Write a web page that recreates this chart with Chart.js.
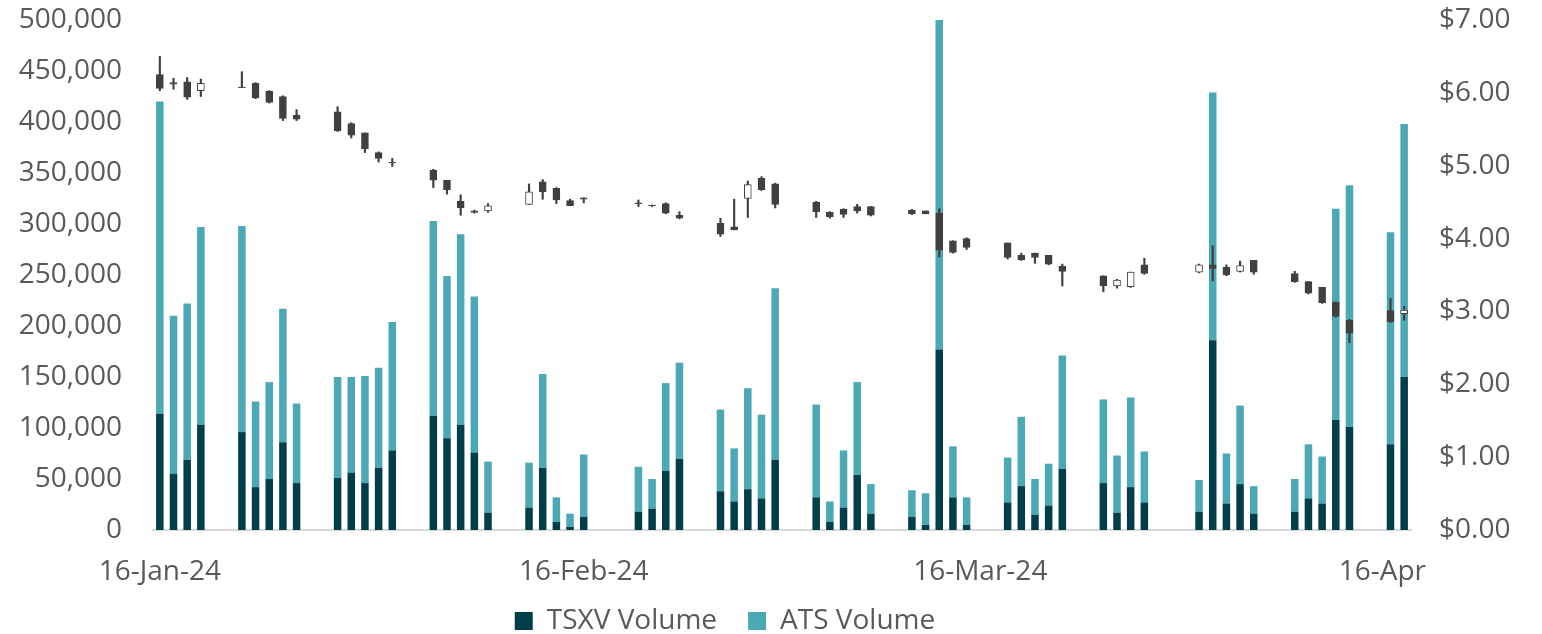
<!DOCTYPE html>
<html><head><meta charset="utf-8">
<script src="https://cdn.jsdelivr.net/npm/chart.js@4.4.1/dist/chart.umd.min.js"></script>
<style>html,body{margin:0;padding:0;background:#fff;}#wrap{width:1542px;height:634px;}</style>
</head><body><div id="wrap"><canvas id="c" width="1542" height="634"></canvas></div>
<script>
// ---- data ----
const tradingDates = [
 '2024-01-16','2024-01-17','2024-01-18','2024-01-19',
 '2024-01-22','2024-01-23','2024-01-24','2024-01-25','2024-01-26',
 '2024-01-29','2024-01-30','2024-01-31','2024-02-01','2024-02-02',
 '2024-02-05','2024-02-06','2024-02-07','2024-02-08','2024-02-09',
 '2024-02-12','2024-02-13','2024-02-14','2024-02-15','2024-02-16',
 '2024-02-20','2024-02-21','2024-02-22','2024-02-23',
 '2024-02-26','2024-02-27','2024-02-28','2024-02-29','2024-03-01',
 '2024-03-04','2024-03-05','2024-03-06','2024-03-07','2024-03-08',
 '2024-03-11','2024-03-12','2024-03-13','2024-03-14','2024-03-15',
 '2024-03-18','2024-03-19','2024-03-20','2024-03-21','2024-03-22',
 '2024-03-25','2024-03-26','2024-03-27','2024-03-28',
 '2024-04-01','2024-04-02','2024-04-03','2024-04-04','2024-04-05',
 '2024-04-08','2024-04-09','2024-04-10','2024-04-11','2024-04-12',
 '2024-04-15','2024-04-16'];
const tsxvVolume = [
 114000,55000,69000,103000,
 96000,42000,50000,86000,46000,
 51000,56000,46000,61000,78000,
 112000,90000,103000,76000,17000,
 22000,61000,8000,3000,13000,
 18000,21000,58000,70000,
 38000,28000,40000,31000,69000,
 32000,8000,22000,54000,16000,
 13000,5000,177000,32000,5000,
 27000,43000,15000,24000,60000,
 46000,17000,42000,27000,
 18000,186000,26000,45000,16000,
 18000,31000,26000,108000,101000,
 84000,150000];
const atsVolume = [
 306000,155000,153000,194000,
 202000,84000,95000,131000,78000,
 99000,94000,105000,98000,126000,
 191000,159000,187000,153000,50000,
 44000,92000,24000,13000,61000,
 44000,29000,86000,94000,
 80000,52000,99000,82000,168000,
 91000,20000,56000,91000,29000,
 26000,31000,343000,50000,27000,
 44000,68000,35000,41000,111000,
 82000,56000,88000,50000,
 31000,243000,49000,77000,27000,
 32000,53000,46000,207000,237000,
 208000,248000];
const priceOpen = [
 6.25,6.14,6.15,6.03,
 6.08,6.13,6.02,5.95,5.69,
 5.74,5.58,5.45,5.18,5.05,
 4.94,4.80,4.51,4.38,4.38,
 4.47,4.78,4.69,4.52,4.56,
 4.49,4.46,4.48,4.32,
 4.21,4.16,4.55,4.83,4.75,
 4.50,4.36,4.40,4.44,4.44,
 4.39,4.38,4.35,3.97,4.00,
 3.94,3.77,3.80,3.77,3.62,
 3.49,3.35,3.34,3.64,
 3.54,3.64,3.61,3.55,3.70,
 3.52,3.41,3.33,3.13,2.88,
 3.01,2.97];
const priceHigh = [
 6.50,6.20,6.21,6.19,
 6.29,6.14,6.03,5.96,5.77,
 5.81,5.59,5.45,5.19,5.10,
 4.95,4.80,4.60,4.39,4.48,
 4.75,4.81,4.70,4.54,4.56,
 4.53,4.46,4.49,4.37,
 4.28,4.54,4.79,4.85,4.76,
 4.51,4.37,4.41,4.47,4.44,
 4.40,4.38,4.41,3.97,4.01,
 3.94,3.80,3.80,3.77,3.65,
 3.49,3.44,3.54,3.73,
 3.65,3.90,3.64,3.69,3.70,
 3.55,3.41,3.33,3.13,2.89,
 3.18,3.07];
const priceLow = [
 6.03,6.05,5.91,5.95,
 6.07,5.92,5.86,5.62,5.62,
 5.47,5.38,5.18,5.05,4.99,
 4.70,4.61,4.32,4.35,4.36,
 4.47,4.54,4.48,4.45,4.49,
 4.44,4.44,4.34,4.27,
 4.03,4.12,4.29,4.66,4.42,
 4.29,4.28,4.29,4.35,4.31,
 4.33,4.34,3.75,3.80,3.85,
 3.72,3.70,3.66,3.64,3.35,
 3.27,3.32,3.33,3.51,
 3.53,3.42,3.49,3.54,3.51,
 3.40,3.24,3.11,2.92,2.57,
 2.85,2.88];
const priceClose = [
 6.06,6.12,5.94,6.13,
 6.07,5.93,5.87,5.65,5.64,
 5.48,5.42,5.23,5.10,5.04,
 4.80,4.67,4.42,4.36,4.45,
 4.64,4.64,4.53,4.45,4.54,
 4.48,4.45,4.35,4.28,
 4.06,4.12,4.74,4.67,4.47,
 4.37,4.30,4.33,4.38,4.32,
 4.34,4.34,3.84,3.81,3.88,
 3.74,3.71,3.74,3.65,3.55,
 3.35,3.43,3.54,3.52,
 3.64,3.59,3.50,3.63,3.54,
 3.41,3.25,3.12,2.93,2.70,
 2.86,3.02];
const tickDates = ['2024-01-16','2024-02-16','2024-03-16','2024-04-16'];
const tickLabels = ['16-Jan-24','16-Feb-24','16-Mar-24','16-Apr'];
const volumeAxis = {min: 0, max: 500000, step: 50000};
const priceAxis = {min: 0, max: 7, step: 1};
const seriesNames = ['TSXV Volume', 'ATS Volume'];

// ---- build calendar category axis ----
const dayKey = d => d.toISOString().slice(0, 10);
const calendarDays = [];
for (let d = new Date(tradingDates[0] + 'T00:00:00Z'); d <= new Date(tradingDates[tradingDates.length - 1] + 'T00:00:00Z'); d.setUTCDate(d.getUTCDate() + 1)) calendarDays.push(dayKey(d));
const tradeIdx = Object.fromEntries(tradingDates.map((d, i) => [d, i]));
const onCal = f => calendarDays.map(d => (d in tradeIdx) ? f(tradeIdx[d]) : null);
const tickMap = Object.fromEntries(tickDates.map((d, i) => [d, tickLabels[i]]));

const GRAY = '#595959', CANDLE = '#404040';
const FONT = {family: '"Open Sans"', size: 28};

// small layout nudge: legend sits a bit lower/left as in the reference; x labels not clipped
const nudge = {
  id: 'nudge',
  afterLayout(chart) {
    const lg = chart.legend;
    if (lg) { lg.top += 11; lg.bottom += 11; lg.left -= 46; lg.right -= 46; }
    chart.scales.x.bottom = chart.height;
  }
};
const fitV = w => s => { s.width = w; s.paddingTop = 0; s.paddingBottom = 0; };

function draw() {
  new Chart(document.getElementById('c'), {
    type: 'bar',
    plugins: [nudge],
    data: {
      labels: calendarDays,
      datasets: [
        {label: 'body', yAxisID: 'y2', order: 0, grouped: false,
         data: onCal(i => [Math.min(priceOpen[i], priceClose[i]), Math.max(priceOpen[i], priceClose[i])]),
         backgroundColor: c => { const i = tradeIdx[calendarDays[c.dataIndex]]; return (i !== undefined && priceClose[i] > priceOpen[i]) ? '#ffffff' : CANDLE; },
         borderColor: CANDLE, borderWidth: 1, borderSkipped: false, barThickness: 7},
        {label: 'wick', yAxisID: 'y2', order: 1, grouped: false,
         data: onCal(i => [priceLow[i], priceHigh[i]]),
         backgroundColor: CANDLE, borderWidth: 0, barThickness: 1.5},
        {label: seriesNames[0], yAxisID: 'y', order: 2, grouped: false, stack: 'vol',
         data: onCal(i => tsxvVolume[i]), backgroundColor: '#003E4A',
         barPercentage: 0.55, categoryPercentage: 1},
        {label: seriesNames[1], yAxisID: 'y', order: 3, grouped: false, stack: 'vol',
         data: onCal(i => atsVolume[i]), backgroundColor: '#4BA8B5',
         barPercentage: 0.55, categoryPercentage: 1}
      ]
    },
    options: {
      responsive: false, animation: false, devicePixelRatio: 1,
      layout: {padding: {top: 20, left: 0, right: 0, bottom: 0}},
      plugins: {
        tooltip: {enabled: false},
        legend: {position: 'bottom',
          labels: {filter: it => seriesNames.includes(it.text), font: FONT, color: GRAY,
                   boxWidth: 18, boxHeight: 18, padding: 31}}
      },
      scales: {
        x: {type: 'category', offset: true, stacked: false,
            grid: {display: false, drawTicks: false},
            border: {display: true, color: '#d9d9d9', width: 2},
            ticks: {autoSkip: false, maxRotation: 0, minRotation: 0, font: FONT, color: GRAY, padding: 25,
                    callback: (v, i) => { const t = tickMap[calendarDays[i]]; if (!t) return ''; return t === '16-Apr' ? t + '\u00a0'.repeat(6) : t; }},
            afterFit: s => { s.height = 35; }},
        y: {position: 'left', stacked: true, min: volumeAxis.min, max: volumeAxis.max,
            grid: {display: false, drawTicks: false}, border: {display: false},
            ticks: {stepSize: volumeAxis.step, font: FONT, color: GRAY, padding: 31,
                    callback: v => v.toLocaleString('en-US')},
            afterFit: fitV(153)},
        y2: {position: 'right', stacked: false, min: priceAxis.min, max: priceAxis.max,
            grid: {display: false, drawTicks: false}, border: {display: false},
            ticks: {stepSize: priceAxis.step, font: FONT, color: GRAY, padding: 28,
                    callback: v => '$' + Number(v).toFixed(2)},
            afterFit: fitV(131)}
      }
    }
  });
}
document.fonts.load('28px "Open Sans"').then(draw, draw);
</script></body></html>
